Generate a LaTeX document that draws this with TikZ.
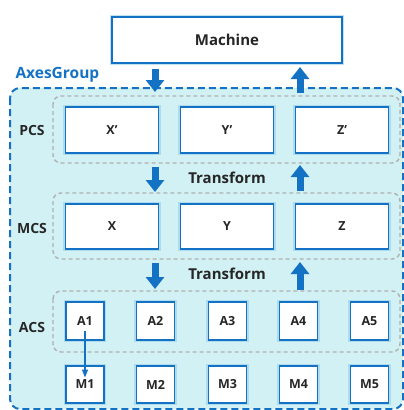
\documentclass[tikz,border=0pt]{standalone}
\usepackage{fontspec}
\setmainfont{Open Sans}
\usetikzlibrary{arrows.meta}
\definecolor{ablue}{RGB}{20,114,196}
\definecolor{abg}{RGB}{210,241,244}
\definecolor{aglow}{RGB}{150,205,235}
\definecolor{agray}{RGB}{175,175,175}
\tikzset{
  box/.style={draw=ablue, line width=1.1pt, fill=white, inner sep=0pt,
    preaction={draw=aglow, line width=4.5pt, opacity=0.6},
    font=\fontsize{12.5}{13}\selectfont\bfseries, text=black!85},
  grp/.style={draw=agray, line width=1.4pt, dash pattern=on 4pt off 3pt, rounded corners=8pt},
  lbl/.style={font=\fontsize{14}{15}\selectfont\bfseries, text=black!85},
  bigarrow/.style={draw=ablue, line width=7pt, -{Triangle[width=18pt,length=12pt]}},
  thinarrow/.style={draw=ablue, line width=1.2pt, -{Triangle[width=6pt,length=8pt]}},
}
\begin{document}
\begin{tikzpicture}[x=1pt,y=-1pt]
\useasboundingbox (0,0) rectangle (404,410);
% outer group
\draw[draw=ablue, fill=abg, line width=2pt, dash pattern=on 7pt off 4pt, rounded corners=10pt] (10,88) rectangle (403,409);
\node[anchor=west, text=ablue, font=\fontsize{15.5}{16}\selectfont\bfseries] (ag) at (12,75) {AxesGroup};
% machine
\node[box, minimum width=230pt, minimum height=46pt, font=\fontsize{15}{16}\selectfont\bfseries] (machine) at (227,40) {Machine};
% groups
\draw[grp] (53,96) rectangle (400,163);
\draw[grp] (53,193) rectangle (400,259);
\draw[grp] (53,291) rectangle (400,352);
\node[lbl] (pcs) at (32,130) {PCS};
\node[lbl] (mcs) at (32,228) {MCS};
\node[lbl] (acs) at (32,327) {ACS};
% PCS boxes
\foreach \n/\t/\x in {Xp/X’/112, Yp/Y’/227, Zp/Z’/342}
  \node[box, minimum width=93pt, minimum height=46pt] (\n) at (\x,130) {\t};
\foreach \n/\t/\x in {Xm/X/112, Ym/Y/227, Zm/Z/342}
  \node[box, minimum width=93pt, minimum height=45pt] (\n) at (\x,226.5) {\t};
\foreach \i/\x in {1/85, 2/155.5, 3/227.5, 4/298.5, 5/369.5}{
  \node[box, minimum width=38pt, minimum height=38pt] (A\i) at (\x,321) {A\i};
  \node[box, minimum width=38pt, minimum height=37pt] (M\i) at (\x,384.5) {M\i};
}
\node[lbl, font=\fontsize{15}{16}\selectfont\bfseries] (t1) at (227,178) {Transform};
\node[lbl, font=\fontsize{15}{16}\selectfont\bfseries] (t2) at (227,274) {Transform};
% arrows
\coordinate (d1a) at (155,69); \coordinate (d1b) at (155,92);
\coordinate (d2a) at (155,167); \coordinate (d2b) at (155,192);
\coordinate (d3a) at (155,263); \coordinate (d3b) at (155,289);
\coordinate (u1a) at (300,93); \coordinate (u1b) at (300,67);
\coordinate (u2a) at (300,191); \coordinate (u2b) at (300,165);
\coordinate (u3a) at (300,290); \coordinate (u3b) at (300,262);
\draw[bigarrow] (d1a) -- (d1b);
\draw[bigarrow] (d2a) -- (d2b);
\draw[bigarrow] (d3a) -- (d3b);
\draw[bigarrow] (u1a) -- (u1b);
\draw[bigarrow] (u2a) -- (u2b);
\draw[bigarrow] (u3a) -- (u3b);
\draw[thinarrow] ([yshift=-10pt]A1.center) -- ([yshift=7pt]M1.center);
\end{tikzpicture}
\end{document}
